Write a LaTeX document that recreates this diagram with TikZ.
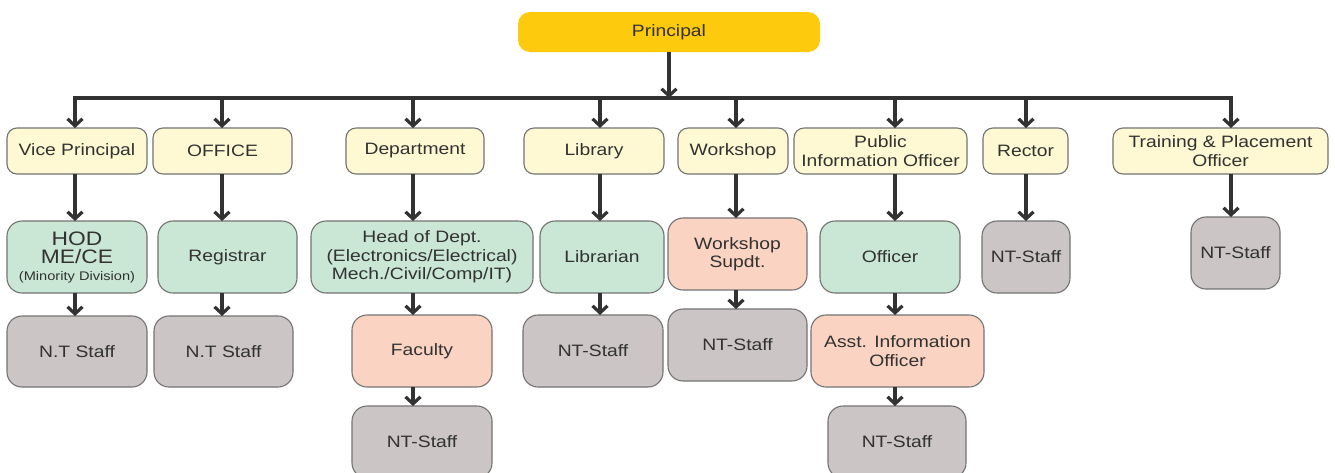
\documentclass[tikz,border=0pt]{standalone}
\usepackage{fontspec}
\setmainfont{Liberation Sans}[FakeStretch=1.17]
\usetikzlibrary{arrows.meta}
\definecolor{gold}{RGB}{254,202,14}
\definecolor{cream}{RGB}{254,249,210}
\definecolor{mint}{RGB}{202,230,213}
\definecolor{salmon}{RGB}{250,211,194}
\definecolor{stone}{RGB}{204,197,197}
\definecolor{bordergray}{RGB}{115,115,115}
\definecolor{textgray}{RGB}{50,50,50}
\definecolor{arrowgray}{RGB}{50,50,50}
\begin{document}
\begin{tikzpicture}[x=1pt,y=-1pt,
  font=\fontsize{16.5}{18.5}\selectfont,
  base/.style={draw=bordergray, line width=1.1pt, text=textgray, align=center, inner sep=0pt, outer sep=0pt},
  lvl/.style={base, fill=cream, rounded corners=10pt},
  grn/.style={base, fill=mint, rounded corners=15pt},
  sal/.style={base, fill=salmon, rounded corners=15pt},
  gry/.style={base, fill=stone, rounded corners=15pt},
  top/.style={fill=gold, text=textgray, rounded corners=12pt, inner sep=0pt, outer sep=0pt, align=center},
  arr/.style={draw=arrowgray, line width=3.2pt, -{Straight Barb[length=7pt,width=15pt]}},
  ln/.style={draw=arrowgray, line width=3.2pt}]
\useasboundingbox (0,0) rectangle (1335,472);
\fill[white] (0,0) rectangle (1335,472);

% Principal
\node[top, minimum width=302pt, minimum height=40pt] (pr) at (669,32) {Principal};

% Level 1
\node[lvl, minimum width=140pt, minimum height=46pt] (vp) at (77,151) {Vice Principal};
\node[lvl, minimum width=139pt, minimum height=46pt] (off) at (222.5,151) {OFFICE};
\node[lvl, minimum width=138pt, minimum height=46pt] (dep) at (415,151) {Department};
\node[lvl, minimum width=140pt, minimum height=46pt] (lib) at (594,151) {Library};
\node[lvl, minimum width=110pt, minimum height=46pt] (wsh) at (733,151) {Workshop};
\node[lvl, minimum width=173pt, minimum height=46pt] (pio) at (880.5,151) {Public\\Information Officer};
\node[lvl, minimum width=85pt, minimum height=46pt] (rec) at (1025.5,151) {Rector};
\node[lvl, minimum width=215pt, minimum height=46pt] (tp) at (1220.5,151) {Training \& Placement\\Officer};

% Level 2
\node[grn, minimum width=140pt, minimum height=72pt] (hod) at (77,257) {\fontsize{19.5}{21}\selectfont HOD\\\fontsize{19.5}{21}\selectfont ME/CE\\[-2pt]\fontsize{12.5}{14}\selectfont (Minority Division)};
\node[grn, minimum width=139pt, minimum height=72pt] (reg) at (227.5,257) {Registrar};
\node[grn, minimum width=222pt, minimum height=72pt] (hd) at (422,257) {Head of Dept.\\(Electronics/Electrical)\\Mech./Civil/Comp/IT)};
\node[grn, minimum width=124pt, minimum height=72pt] (lbr) at (602,257) {Librarian};
\node[sal, minimum width=139pt, minimum height=72pt] (wss) at (737.5,254) {Workshop\\Supdt.};
\node[grn, minimum width=140pt, minimum height=72pt] (ofc) at (890,257) {Officer};
\node[gry, minimum width=88pt, minimum height=72pt] (rnt) at (1026,257) {NT-Staff};
\node[gry, minimum width=89pt, minimum height=72pt] (tnt) at (1235.5,253) {NT-Staff};

% Level 3
\node[gry, minimum width=140pt, minimum height=71pt] (hnt) at (77,351.5) {N.T Staff};
\node[gry, minimum width=139pt, minimum height=71pt] (gnt) at (223.5,351.5) {N.T Staff};
\node[sal, minimum width=140pt, minimum height=72pt] (fac) at (422,351) {Faculty};
\node[gry, minimum width=140pt, minimum height=72pt] (lnt) at (593,351) {NT-Staff};
\node[gry, minimum width=139pt, minimum height=72pt] (wnt) at (737.5,345) {NT-Staff};
\node[sal, minimum width=173pt, minimum height=72pt] (asst) at (897.5,351) {Asst. Information\\Officer};

% Level 4
\node[gry, minimum width=140pt, minimum height=72pt] (fnt) at (422,442) {NT-Staff};
\node[gry, minimum width=138pt, minimum height=72pt] (pnt) at (897,442) {NT-Staff};

% bus columns
\coordinate (cvp) at (75,98);
\coordinate (coff) at (222,98);
\coordinate (cdep) at (413,98);
\coordinate (clib) at (600,98);
\coordinate (cwsh) at (736,98);
\coordinate (cpio) at (895,98);
\coordinate (crec) at (1026,98);
\coordinate (ctp) at (1231,98);

\draw[ln] ([yshift=-1.6pt]cvp) |- (coff) -- (ctp) -- ([yshift=-1.6pt]ctp);
\draw[arr] (pr.south) -- (pr.south |- cvp);

\foreach \c/\n in {cvp/vp, coff/off, cdep/dep, clib/lib, cwsh/wsh, cpio/pio, crec/rec, ctp/tp}
  \draw[arr] (\c) -- (\c |- \n.north);

% level 1 -> 2
\draw[arr] (vp.south -| cvp) -- (hod.north -| cvp);
\draw[arr] (off.south -| coff) -- (reg.north -| coff);
\draw[arr] (dep.south -| cdep) -- (hd.north -| cdep);
\draw[arr] (lib.south -| clib) -- (lbr.north -| clib);
\draw[arr] (wsh.south -| cwsh) -- (wss.north -| cwsh);
\draw[arr] (pio.south -| cpio) -- (ofc.north -| cpio);
\draw[arr] (rec.south -| crec) -- (rnt.north -| crec);
\draw[arr] (tp.south -| ctp) -- (tnt.north -| ctp);

% level 2 -> 3
\draw[arr] (hod.south -| cvp) -- (hnt.north -| cvp);
\draw[arr] (reg.south -| coff) -- (gnt.north -| coff);
\draw[arr] (hd.south -| cdep) -- (fac.north -| cdep);
\draw[arr] (lbr.south -| clib) -- (lnt.north -| clib);
\draw[arr] (wss.south -| cwsh) -- (wnt.north -| cwsh);
\draw[arr] (ofc.south -| cpio) -- (asst.north -| cpio);

% level 3 -> 4
\draw[arr] (fac.south -| cdep) -- (fnt.north -| cdep);
\draw[arr] (asst.south -| cpio) -- (pnt.north -| cpio);
\end{tikzpicture}
\end{document}
